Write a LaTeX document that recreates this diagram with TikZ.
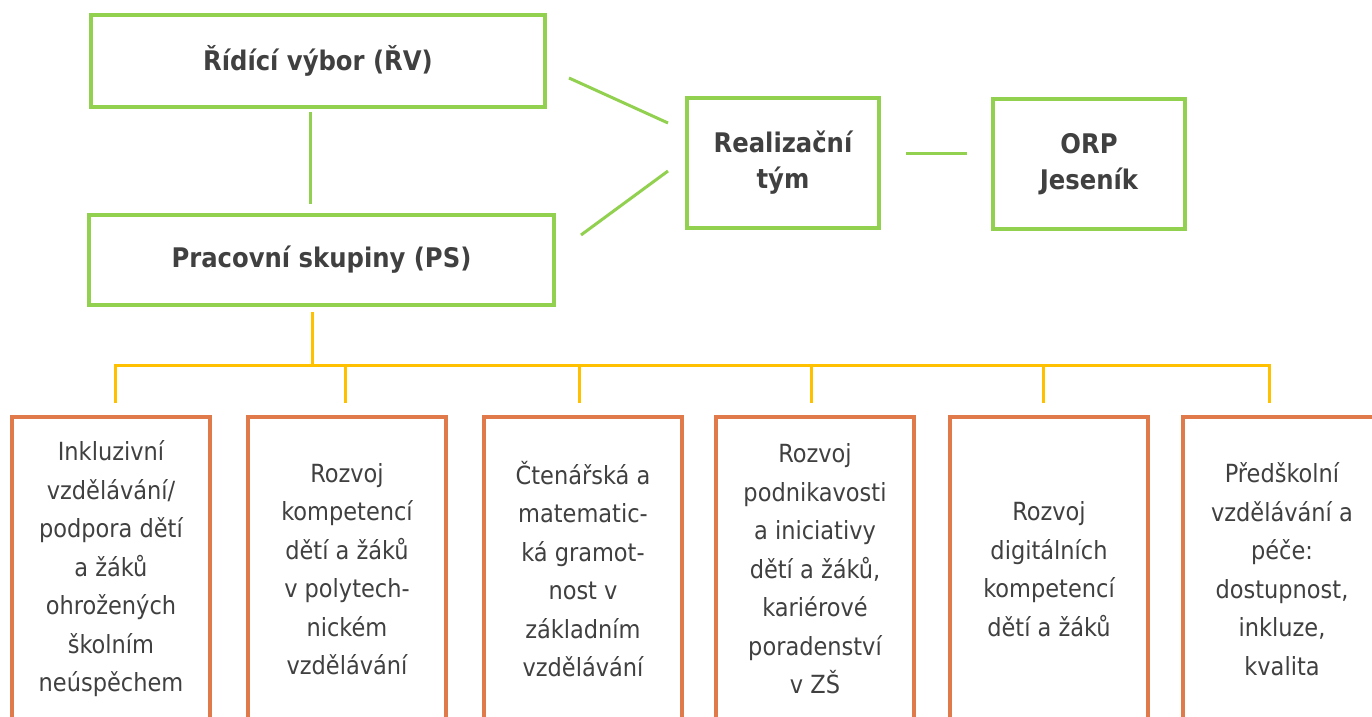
\documentclass[tikz,border=0pt]{standalone}
\usepackage{fontspec}
\setmainfont{DejaVu Sans Condensed}

\definecolor{zelena}{HTML}{92D050}
\definecolor{oranzova}{HTML}{E07A4B}
\definecolor{zluta}{HTML}{FFC000}
\definecolor{sedy}{HTML}{404040}

\begin{document}
\begin{tikzpicture}[x=0.5pt,y=-0.5pt,
		zelbox/.style={draw=zelena,line width=2pt,text=sedy,align=center,
			font=\bfseries\fontsize{13.5}{18}\selectfont},
		orbox/.style={draw=oranzova,line width=2pt,text=sedy,align=center,inner sep=0pt,
			minimum width=99pt,minimum height=152pt,font=\fontsize{12.5}{19.25}\selectfont},
		zelcara/.style={draw=zelena,line width=1.5pt},
		zlcara/.style={draw=zluta,line width=1.5pt}]
				\useasboundingbox(0,0)rectangle(1372,717);
				\clip(0,0)rectangle(1372,717);
				% vedeni
				\node[zelbox,minimum width=227pt,minimum height=46pt](rv)at(318,61){Řídící výbor (ŘV)};
				\node[zelbox,minimum width=232.5pt,minimum height=45pt](ps)at(321.5,260){Pracovní skupiny (PS)};
				\node[zelbox,minimum width=96pt,minimum height=65pt](rt)at(783,163){Realizační\\tým};
				\node[zelbox,minimum width=96pt,minimum height=65pt](orp)at(1089,164){ORP\\Jeseník};
				\draw[zelcara]([shift={(-8,3)}]rv.south)--([shift={(-11.5,-9)}]ps.north);
				\draw[zelcara]([shift={(22,17)}]rv.east)--([shift={(-17,-40)}]rt.west);
				\draw[zelcara]([shift={(25,-25)}]ps.east)--([shift={(-17,8)}]rt.west);
				\draw[zelcara]([shift={(25,-9)}]rt.east)--([shift={(-24,-10)}]orp.west);
				% pracovni skupiny
				\node[orbox](b1)at(111,569){Inkluzivní\\vzdělávání/\\podpora dětí\\a žáků\\ohrožených\\školním\\neúspěchem};
				\node[orbox](b2)at(347,569){Rozvoj\\kompetencí\\dětí a žáků\\v polytech-\\nickém\\vzdělávání};
				\node[orbox](b3)at(583,569){Čtenářská a\\matematic-\\ká gramot-\\nost v\\základním\\vzdělávání};
				\node[orbox](b4)at(815,569){Rozvoj\\podnikavosti\\a iniciativy\\dětí a žáků,\\kariérové\\poradenství\\v ZŠ};
				\node[orbox](b5)at(1049,569){Rozvoj\\digitálních\\kompetencí\\dětí a žáků};
				\node[orbox](b6)at(1282,569){Předškolní\\vzdělávání a\\péče:\\dostupnost,\\inkluze,\\kvalita};
				\coordinate(bus)at(312,365);
				\draw[zlcara]([shift={(-9.5,5)}]ps.south)--(bus);
				\foreach \b/\dx in {b1/4,b2/-2,b3/-4,b4/-4,b5/-6,b6/-13}
					\draw[zlcara]([shift={(\dx,-12)}]\b.north)|-(bus);
			\end{tikzpicture}
\end{document}
